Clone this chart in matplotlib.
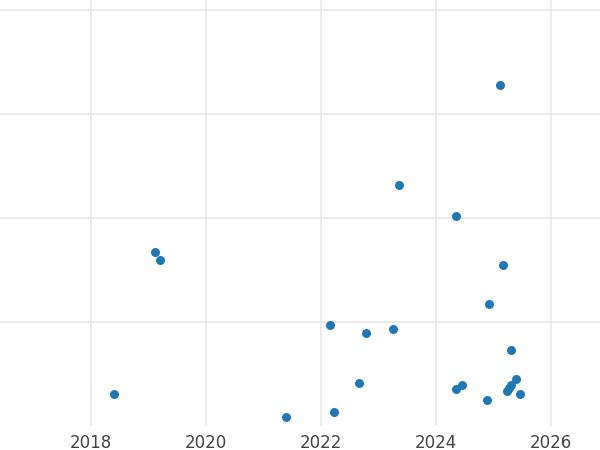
import matplotlib
matplotlib.use("Agg")
import matplotlib.pyplot as plt

years = [2025.12, 2023.36, 2024.35, 2019.12, 2019.20, 2025.17, 2024.92, 2022.16,
         2022.79, 2023.25, 2025.31, 2022.66, 2025.39, 2024.45, 2024.35, 2025.31,
         2025.27, 2025.24, 2025.46, 2024.89, 2018.40, 2021.39, 2022.23]
values = [3.28, 2.32, 2.02, 1.67, 1.60, 1.55, 1.17, 0.97,
          0.89, 0.93, 0.73, 0.41, 0.45, 0.39, 0.36, 0.39,
          0.37, 0.34, 0.31, 0.25, 0.31, 0.09, 0.13]
xticks = [2018, 2020, 2022, 2024, 2026]

fig = plt.figure(figsize=(6, 4.5), dpi=100)
ax = fig.add_axes([0, 1 - 426 / 450, 1, 426 / 450])
ax.scatter(years, values, s=42, color="#1f77b4", zorder=3, linewidths=0)
ax.set_xlim(2016.42, 2026.85)
ax.set_ylim(0, 426 / 104)
ax.set_xticks(xticks)
ax.set_xticklabels([str(t) for t in xticks])
ax.set_yticks([1, 2, 3, 4])
ax.set_yticklabels([])
ax.grid(True, color="#e8e8e8", linewidth=1.2)
ax.set_axisbelow(True)
for s in ax.spines.values():
    s.set_visible(False)
ax.tick_params(axis="both", length=0, labelsize=12, labelcolor="#444444", pad=6)
fig.savefig("out.png", dpi=100)
